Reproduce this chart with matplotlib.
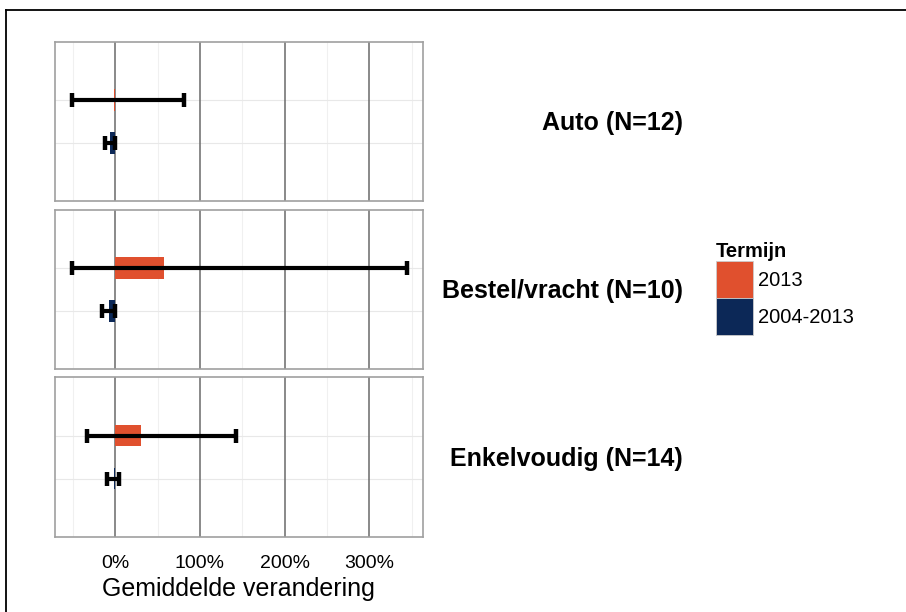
import numpy as np
import matplotlib.pyplot as plt
from matplotlib.lines import Line2D
from matplotlib.patches import Patch

plt.rcParams['font.family'] = ['Liberation Sans', 'DejaVu Sans']

# data: mean change (fraction) and error bar bounds per facet
panels = ['Auto (N=12)', 'Bestel/vracht (N=10)', 'Enkelvoudig (N=14)']
terms = ['2013', '2004-2013']
mean_2013 = [-0.01, 0.575, 0.30]
lo_2013 = [-0.51, -0.51, -0.33]
hi_2013 = [0.81, 3.44, 1.42]
mean_long = [-0.06, -0.08, -0.02]
lo_long = [-0.12, -0.16, -0.10]
hi_long = [0.0, 0.0, 0.04]

colors = {'2013': '#E0502E', '2004-2013': '#0C2857'}

fig = plt.figure(figsize=(9.06, 6.12), dpi=100)

left, width = 0.0607, 0.4059
bottoms = [0.6716, 0.397, 0.123]
height = 0.2603

ypos = {'2013': 1, '2004-2013': 0}

for i, name in enumerate(panels):
    ax = fig.add_axes([left, bottoms[i], width, height])
    means = {'2013': mean_2013[i], '2004-2013': mean_long[i]}
    los = {'2013': lo_2013[i], '2004-2013': lo_long[i]}
    his = {'2013': hi_2013[i], '2004-2013': hi_long[i]}

    # grid
    for x in [-0.5, 0.5, 1.5, 2.5, 3.5]:
        ax.axvline(x, color='#f0f0f0', lw=0.8, zorder=0)
    for y in [0, 1]:
        ax.axhline(y, color='#e8e8e8', lw=0.8, zorder=0)
    for x in [0, 1, 2, 3]:
        ax.axvline(x, color='#6a6a6a', lw=1.1, zorder=1)

    for t in terms:
        m = means[t]
        ax.barh(ypos[t], m, height=0.5, color=colors[t], zorder=2)
        ax.errorbar(m, ypos[t], xerr=[[m - los[t]], [his[t] - m]], fmt='none',
                    ecolor='black', elinewidth=3, capsize=5, capthick=3.2, zorder=3)

    ax.set_xlim(-0.712, 3.63)
    ax.set_ylim(-1.349, 2.349)
    ax.set_yticks([])
    for s in ax.spines.values():
        s.set_color('#a0a0a0')
        s.set_linewidth(1.2)
    ax.set_xticks([0, 1, 2, 3])
    if i == 2:
        ax.set_xticklabels(['0%', '100%', '200%', '300%'], fontsize=14)
        ax.tick_params(axis='x', length=0, pad=13.5, colors='black')
        ax.set_xlabel('Gemiddelde verandering', fontsize=18, labelpad=3.5)
    else:
        ax.set_xticklabels([])
        ax.tick_params(axis='x', length=0)

    # facet label on the right
    ax.text(683 / 906, bottoms[i] + height / 2 - 8.5 / 612, name,
            transform=fig.transFigure, ha='right', va='baseline',
            fontsize=18, fontweight='bold')

handles = [Patch(facecolor=colors[t], edgecolor='#cccccc', linewidth=0.6) for t in terms]
leg = fig.legend(handles, terms, title='Termijn', loc='upper left',
                 bbox_to_anchor=(716 / 906, 1 - 242 / 612), frameon=False,
                 fontsize=14.5, title_fontsize=14.5, handlelength=1.85,
                 handleheight=2.45, handletextpad=0.25, labelspacing=0.0,
                 borderaxespad=0, borderpad=0)
leg.get_title().set_fontweight('bold')
leg._legend_box.align = 'left'

# outer frame lines (top and left)
fig.add_artist(Line2D([6 / 906, 1], [1 - 10 / 612, 1 - 10 / 612], color='black', lw=1.3))
fig.add_artist(Line2D([6 / 906, 6 / 906], [0, 1 - 10 / 612], color='black', lw=1.3))

fig.savefig('out.png', dpi=100)
